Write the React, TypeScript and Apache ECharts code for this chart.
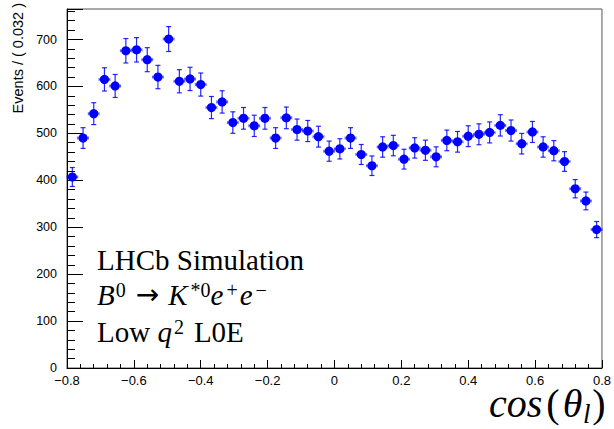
import React, { useEffect, useRef } from "react";
import * as echarts from "echarts";

const binMin = -0.8;
const binWidth = 0.032;
const counts = [
  407, 490, 542, 615, 601, 676, 678, 657, 620, 701,
  611, 616, 604, 555, 567, 523, 532, 516, 532, 490,
  533, 508, 505, 493, 462, 467, 490, 455, 431, 471,
  474, 445, 469, 464, 450, 485, 482, 494, 498, 502,
  517, 506, 478, 503, 471, 463, 440, 382, 356, 295,
];
const errors = [
  20.2, 22.1, 23.3, 24.8, 24.5, 26.0, 26.0, 25.6, 24.9, 26.5,
  24.7, 24.8, 24.6, 23.6, 23.8, 22.9, 23.1, 22.7, 23.1, 22.1,
  23.1, 22.5, 22.5, 22.2, 21.5, 21.6, 22.1, 21.3, 20.8, 21.7,
  21.8, 21.1, 21.7, 21.5, 21.2, 22.0, 22.0, 22.2, 22.3, 22.4,
  22.7, 22.5, 21.9, 22.4, 21.7, 21.5, 21.0, 19.5, 18.9, 17.2,
];
const yAxisTitle = "Events / ( 0.032 )";
const line1 = "LHCb Simulation";

const BLUE = "#0000ff";

export default function App() {
  const ref = useRef<HTMLDivElement>(null);
  useEffect(() => {
    if (!ref.current) return;
    const chart = echarts.init(ref.current, null, { renderer: "svg" });
    const data = counts.map((c, i) => [binMin + binWidth * (i + 0.5), c, errors[i]]);
    const serif = "'Liberation Serif', 'Times New Roman', serif";
    const sans = "'Liberation Sans', Arial, Helvetica, sans-serif";
    const mainTxt = { fontFamily: serif, fontSize: 29, lineHeight: 29, color: "#000" };
    const itTxt = { ...mainTxt, fontStyle: "italic" };
    const sup = (pl: number, pr: number) => ({
      fontFamily: serif, fontSize: 20, lineHeight: 20, color: "#000", verticalAlign: "top", padding: [0, pr, 0, pl],
    });
    const tIt = { fontFamily: serif, fontStyle: "italic", fontSize: 40, lineHeight: 30, color: "#000" };
    const tUp = { fontFamily: serif, fontSize: 40, lineHeight: 30, color: "#000" };
    const option: any = {
      animation: false,
      grid: {
        left: 67, right: 6, top: 9, bottom: 61,
        show: true, borderColor: "#555", borderWidth: 1, backgroundColor: "transparent",
      },
      xAxis: {
        type: "value", min: -0.8, max: 0.8, interval: 0.2,
        axisLine: { show: true, onZero: false, lineStyle: { color: "#000", width: 1 } },
        axisTick: { show: true, inside: true, length: 8, lineStyle: { color: "#000" } },
        minorTick: { show: true, splitNumber: 5, length: 4, lineStyle: { color: "#000" } },
        splitLine: { show: false },
        axisLabel: {
          color: "#000", fontFamily: sans, fontSize: 13, margin: 6,
          formatter: (v: number) => {
            const r = Math.round(v * 10) / 10;
            if (r === 0) return "0";
            return (r < 0 ? "\u2212" : "") + Math.abs(r).toFixed(1);
          },
        },
      },
      yAxis: {
        type: "value", min: 0, max: 765, interval: 100,
        axisLine: { show: true, onZero: false, lineStyle: { color: "#000", width: 1 } },
        axisTick: { show: true, inside: true, length: 16, lineStyle: { color: "#000" } },
        minorTick: { show: true, splitNumber: 5, length: 8, lineStyle: { color: "#000" } },
        splitLine: { show: false },
        axisLabel: { color: "#000", fontFamily: sans, fontSize: 12.5, margin: 10, showMaxLabel: false },
      },
      series: [
        {
          type: "custom",
          data,
          clip: false,
          renderItem: (params: any, api: any) => {
            const x = api.value(0), y = api.value(1), e = api.value(2);
            const c = api.coord([x, y]);
            const t = api.coord([x, y + e]);
            const b = api.coord([x, y - e]);
            const l = api.coord([x - binWidth / 2, y]);
            const r = api.coord([x + binWidth / 2, y]);
            const vs = { stroke: BLUE, lineWidth: 1.2, opacity: 0.85 };
            const hs = { stroke: BLUE, lineWidth: 1.2, opacity: 0.55 };
            return {
              type: "group",
              children: [
                { type: "line", shape: { x1: c[0], y1: t[1], x2: c[0], y2: b[1] }, style: vs },
                { type: "line", shape: { x1: c[0] - 2.5, y1: t[1], x2: c[0] + 2.5, y2: t[1] }, style: vs },
                { type: "line", shape: { x1: c[0] - 2.5, y1: b[1], x2: c[0] + 2.5, y2: b[1] }, style: vs },
                { type: "line", shape: { x1: l[0], y1: c[1], x2: r[0], y2: c[1] }, style: hs },
                { type: "line", shape: { x1: l[0], y1: c[1] - 1.5, x2: l[0], y2: c[1] + 1.5 }, style: hs },
                { type: "line", shape: { x1: r[0], y1: c[1] - 1.5, x2: r[0], y2: c[1] + 1.5 }, style: hs },
                { type: "circle", shape: { cx: c[0], cy: c[1], r: 4.6 }, style: { fill: BLUE } },
              ],
            };
          },
        },
      ],
      graphic: [
        {
          type: "text", x: 18, y: 3, rotation: Math.PI / 2,
          style: { text: yAxisTitle, fontFamily: sans, fontSize: 14.5, fill: "#000", align: "right", verticalAlign: "middle" },
        },
        {
          type: "text", x: 97, y: 245,
          style: { text: "{m|" + line1 + "}", rich: { m: mainTxt }, align: "left", verticalAlign: "top" },
        },
        {
          type: "text", x: 97, y: 280,
          style: {
            text: "{i|B}{s0|0}{ar|\u2192}{i|K}{s1|*0}{i|e}{s2|+}{i|e}{s3|\u2212}",
            rich: {
              m: mainTxt, i: itTxt,
              ar: { fontFamily: "'DejaVu Sans', sans-serif", fontSize: 28, lineHeight: 29, color: "#000", padding: [0, 9, 0, 10] },
              s0: sup(1, 0), s1: sup(3, 0), s2: sup(3, 2), s3: sup(3, 0),
            },
            align: "left", verticalAlign: "top",
          },
        },
        {
          type: "text", x: 97, y: 317,
          style: {
            text: "{m|Low }{i|q}{s|2}{m|L0E}",
            rich: { m: mainTxt, i: itTxt, s: sup(2, 10) },
            align: "left", verticalAlign: "top",
          },
        },
        {
          type: "text", x: 489, y: 388,
          style: {
            text: "{i|cos}{p|(}{t|\u03b8}{g|}{m|)}",
            rich: {
              i: tIt, m: tUp,
              p: { ...tUp, padding: [0, 3, 0, 4] },
              t: tIt,
              g: { ...tUp, width: 10 },
            },
            align: "left", verticalAlign: "top",
          },
        },
        {
          type: "text", x: 583, y: 414,
          style: { text: "l", fontFamily: serif, fontStyle: "italic", fontSize: 27, fill: "#000", align: "left", verticalAlign: "middle" },
        },
      ],
    };
    chart.setOption(option);
    return () => chart.dispose();
  }, []);
  return <div ref={ref} style={{ width: 614, height: 429, position: "absolute", left: 0, top: 0 }} />;
}
